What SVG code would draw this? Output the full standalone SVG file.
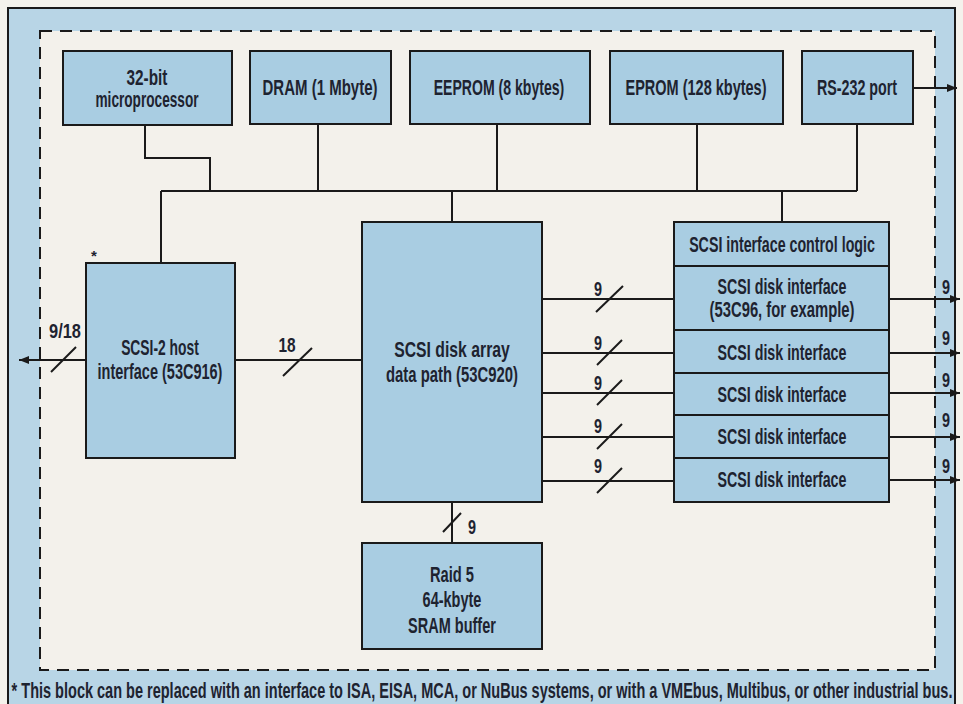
<svg xmlns="http://www.w3.org/2000/svg" width="963" height="704" viewBox="0 0 963 704">
<defs>
<style>
.t{font-family:"Liberation Sans",Arial,sans-serif;font-weight:bold;font-size:22px;fill:#1e2330;text-anchor:middle}
.n{font-family:"Liberation Sans",Arial,sans-serif;font-weight:bold;font-size:20px;fill:#1e2330;text-anchor:middle}
.box{fill:#a9cde2;stroke:#1a1a1a;stroke-width:2}
.ln{fill:none;stroke:#1a1a1a;stroke-width:2}
.sl{fill:none;stroke:#1a1a1a;stroke-width:2}
</style>
<marker id="ah" markerWidth="10" markerHeight="8" refX="10" refY="4" orient="auto" markerUnits="userSpaceOnUse">
<path d="M0,0 L10,4 L0,8 Z" fill="#1a1a1a"/>
</marker>
</defs>
<rect x="0" y="0" width="963" height="704" fill="#f4f2ec"/>
<rect x="8" y="8" width="947" height="710" fill="#b8d5e6" stroke="#1a1a1a" stroke-width="2"/>
<rect x="40" y="31" width="895" height="639" fill="#f3f1eb" stroke="#1a1a1a" stroke-width="2" stroke-dasharray="12,8"/>

<g id="connectors">
<path class="ln" d="M145,125 V158 H210 V191"/>
<path class="ln" d="M161,191 H857"/>
<path class="ln" d="M318,124 V191"/>
<path class="ln" d="M497,124 V191"/>
<path class="ln" d="M697,124 V191"/>
<path class="ln" d="M857,124 V191"/>
<path class="ln" d="M452,191 V222"/>
<path class="ln" d="M782,191 V222"/>
<path class="ln" d="M161,191 V263"/>
<path class="ln" d="M913,88 H957" marker-end="url(#ah)"/>
<path class="ln" d="M86,360 H19" marker-end="url(#ah)"/>
<path class="sl" d="M51,372 L76,347"/>
<text class="n" transform="translate(65,338) scale(0.82,1)">9/18</text>
<path class="ln" d="M235,360 H362"/>
<path class="sl" d="M283,376 L312,348"/>
<text class="n" transform="translate(287,352) scale(0.77,1)">18</text>
<path class="ln" d="M452,502 V543"/>
<path class="sl" d="M443,532 L461,513"/>
<text class="n" transform="translate(472,534) scale(0.72,1)">9</text>
<path class="ln" d="M542,299 H674"/>
<path class="ln" d="M542,353 H674"/>
<path class="ln" d="M542,393 H674"/>
<path class="ln" d="M542,437 H674"/>
<path class="ln" d="M542,481 H674"/>
<path class="sl" d="M596,312 L623,286"/>
<path class="sl" d="M597,365 L622,340"/>
<path class="sl" d="M597,405 L622,380"/>
<path class="sl" d="M597,449 L622,424"/>
<path class="sl" d="M597,493 L622,468"/>
<text class="n" transform="translate(598,296) scale(0.72,1)">9</text>
<text class="n" transform="translate(598,350) scale(0.72,1)">9</text>
<text class="n" transform="translate(598,390) scale(0.72,1)">9</text>
<text class="n" transform="translate(598,433) scale(0.72,1)">9</text>
<text class="n" transform="translate(598,473) scale(0.72,1)">9</text>
<path class="ln" d="M889,299 H960" marker-end="url(#ah)"/>
<path class="ln" d="M889,353 H960" marker-end="url(#ah)"/>
<path class="ln" d="M889,393 H960" marker-end="url(#ah)"/>
<path class="ln" d="M889,437 H960" marker-end="url(#ah)"/>
<path class="ln" d="M889,480 H960" marker-end="url(#ah)"/>
<text class="n" transform="translate(946,294) scale(0.72,1)">9</text>
<text class="n" transform="translate(946,345) scale(0.72,1)">9</text>
<text class="n" transform="translate(946,387) scale(0.72,1)">9</text>
<text class="n" transform="translate(946,427) scale(0.72,1)">9</text>
<text class="n" transform="translate(946,473) scale(0.72,1)">9</text>
</g>

<g id="microprocessor">
<rect class="box" x="63" y="51" width="169" height="74"/>
<text class="t" transform="translate(147,85) scale(0.697,1)">32-bit</text>
<text class="t" transform="translate(147,107) scale(0.62,1)">microprocessor</text>
</g>
<g id="dram">
<rect class="box" x="250" y="51" width="141" height="73"/>
<text class="t" transform="translate(320,95) scale(0.682,1)">DRAM (1 Mbyte)</text>
</g>
<g id="eeprom">
<rect class="box" x="410" y="51" width="180" height="73"/>
<text class="t" transform="translate(499,95) scale(0.64,1)">EEPROM (8 kbytes)</text>
</g>
<g id="eprom">
<rect class="box" x="610" y="51" width="173" height="73"/>
<text class="t" transform="translate(696,95) scale(0.659,1)">EPROM (128 kbytes)</text>
</g>
<g id="rs232">
<rect class="box" x="802" y="51" width="111" height="73"/>
<text class="t" transform="translate(857,95) scale(0.649,1)">RS-232 port</text>
</g>
<g id="host">
<rect class="box" x="86" y="263" width="149" height="195"/>
<text class="t" x="94" y="261" style="font-size:15px">*</text>
<text class="t" transform="translate(160,355) scale(0.63,1)">SCSI-2 host</text>
<text class="t" transform="translate(160,379) scale(0.659,1)">interface (53C916)</text>
</g>
<g id="datapath">
<rect class="box" x="362" y="222" width="180" height="280"/>
<text class="t" transform="translate(452,357) scale(0.716,1)">SCSI disk array</text>
<text class="t" transform="translate(452,382) scale(0.675,1)">data path (53C920)</text>
</g>
<g id="sram">
<rect class="box" x="362" y="543" width="180" height="106"/>
<text class="t" transform="translate(452,582) scale(0.668,1)">Raid 5</text>
<text class="t" transform="translate(452,607) scale(0.659,1)">64-kbyte</text>
<text class="t" transform="translate(452,633) scale(0.659,1)">SRAM buffer</text>
</g>
<g id="control">
<rect class="box" x="674" y="222" width="215" height="44"/>
<text class="t" transform="translate(782,252) scale(0.647,1)">SCSI interface control logic</text>
</g>
<g id="disk1">
<rect class="box" x="674" y="266" width="215" height="64"/>
<text class="t" transform="translate(782,294) scale(0.647,1)">SCSI disk interface</text>
<text class="t" transform="translate(782,317) scale(0.674,1)">(53C96, for example)</text>
</g>
<g id="disk2">
<rect class="box" x="674" y="330" width="215" height="43"/>
<text class="t" transform="translate(782,360) scale(0.647,1)">SCSI disk interface</text>
</g>
<g id="disk3">
<rect class="box" x="674" y="373" width="215" height="42"/>
<text class="t" transform="translate(782,402) scale(0.647,1)">SCSI disk interface</text>
</g>
<g id="disk4">
<rect class="box" x="674" y="415" width="215" height="43"/>
<text class="t" transform="translate(782,444) scale(0.647,1)">SCSI disk interface</text>
</g>
<g id="disk5">
<rect class="box" x="674" y="458" width="215" height="44"/>
<text class="t" transform="translate(782,487) scale(0.647,1)">SCSI disk interface</text>
</g>
<text class="t" transform="translate(482,698) scale(0.66,1)">* This block can be replaced with an interface to ISA, EISA, MCA, or NuBus systems, or with a VMEbus, Multibus, or other industrial bus.</text>
</svg>
